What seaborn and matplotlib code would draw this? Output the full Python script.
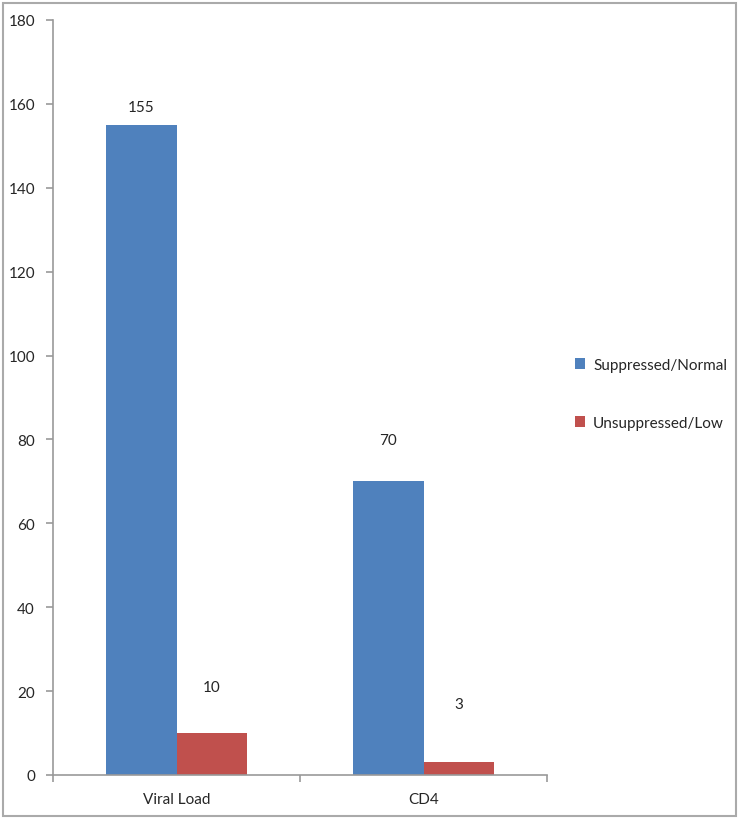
import pandas as pd
import seaborn as sns
import matplotlib.pyplot as plt
from matplotlib.patches import Rectangle, Patch

# Chart values
categories = ["Viral Load", "CD4"]
series = ["Suppressed/Normal", "Unsuppressed/Low"]
suppressed = [155, 70]
unsuppressed = [10, 3]
y_ticks = [0, 20, 40, 60, 80, 100, 120, 140, 160, 180]

df = pd.DataFrame({
    "Test": categories * 2,
    "Status": [series[0]] * 2 + [series[1]] * 2,
    "Count": suppressed + unsuppressed,
})

sns.set_style("white")
plt.rcParams["font.family"] = ["Lato", "DejaVu Sans"]

colors = ["#4F81BD", "#C0504D"]
fs = 11

fig = plt.figure(figsize=(7.4, 8.2), dpi=100)
ax = fig.add_axes([53 / 740, 44 / 820, 494 / 740, 755 / 820])

sns.barplot(
    data=df, x="Test", y="Count", hue="Status",
    palette=colors, width=0.57, saturation=1, ax=ax, legend=False,
    linewidth=0,
)

ax.set_xlim(-0.5, 1.5)
ax.set_ylim(0, 180)
ax.set_yticks(y_ticks)
ax.set_xlabel("")
ax.set_ylabel("")

# Spines / ticks in grey, Excel style
for side in ["top", "right"]:
    ax.spines[side].set_visible(False)
for side in ["left", "bottom"]:
    ax.spines[side].set_color("#999999")
    ax.spines[side].set_linewidth(1.2)
ax.tick_params(axis="y", length=5, color="#999999", width=1.2,
               labelsize=fs, pad=8, left=True)
ax.tick_params(axis="x", which="major", length=0, labelsize=fs, pad=12)
ax.set_xticks([-0.5, 0.5, 1.5], minor=True)
ax.tick_params(axis="x", which="minor", length=5, color="#999999",
               width=1.2, bottom=True)

# Value labels (offsets in points above each bar)
offsets = [[13, 30], [33, 42]]
for i, cont in enumerate(ax.containers):
    for j, bar in enumerate(cont):
        h = bar.get_height()
        ax.annotate(f"{h:g}", (bar.get_x() + bar.get_width() / 2, h),
                    xytext=(0, offsets[i][j]), textcoords="offset points",
                    ha="center", va="center", fontsize=fs)

handles = [Patch(facecolor=c, label=s, linewidth=0) for c, s in zip(colors, series)]
fig.legend(handles=handles, loc="center left",
           bbox_to_anchor=(561 / 740, (820 - 395) / 820), frameon=False,
           fontsize=fs, handlelength=0.7, handleheight=0.7,
           handletextpad=0.5, labelspacing=2.9)

# Outer border
fig.patches.append(Rectangle((3 / 740, 3 / 820), 733 / 740, 813 / 820,
                             transform=fig.transFigure, fill=False,
                             edgecolor="#aaaaaa", linewidth=1.5))

fig.savefig("out.png", dpi=100)
